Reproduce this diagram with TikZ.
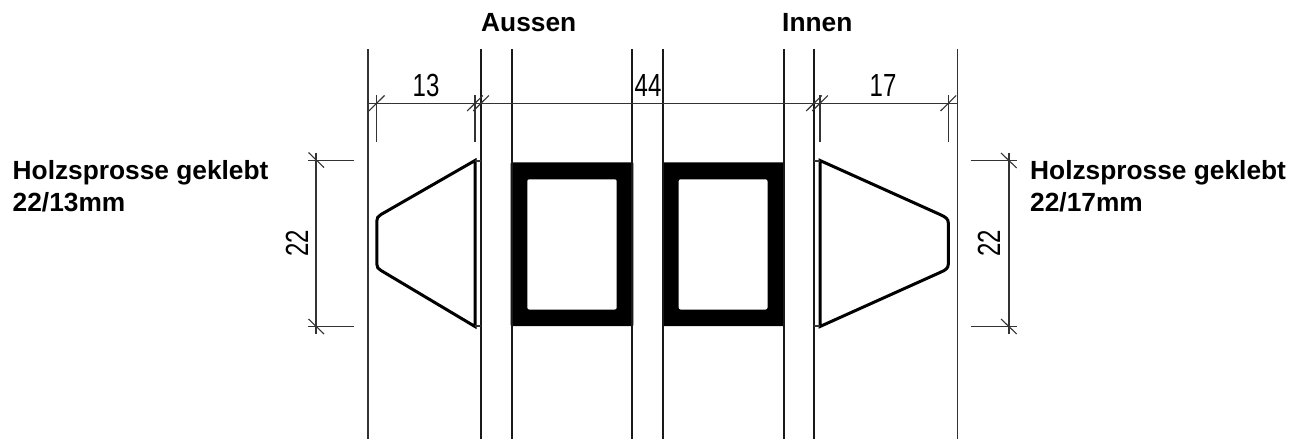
\documentclass[tikz,border=0pt]{standalone}
\usepackage{fontspec}
\setmainfont{Liberation Sans}
\tikzset{
  wall/.style={line width=1.8pt,black!90},
  thin/.style={line width=1.3pt,black!80},
  dimline/.style={line width=1.1pt,black!80},
  profile/.style={line width=3pt,black,line join=miter},
  frame/.style={fill=black,draw=none,rounded corners=1pt},
  hole/.style={fill=white,draw=none,rounded corners=2pt},
  lab/.style={font=\bfseries\fontsize{26.3}{30}\selectfont,anchor=base west,inner sep=0pt},
  dimtext/.style={font=\fontsize{32}{32}\selectfont,inner sep=0pt}
}
\newcommand{\narrow}[1]{\scalebox{0.75}[1]{#1}}
\begin{document}
\begin{tikzpicture}[x=1pt,y=-1pt]
\useasboundingbox (0,0) rectangle (1308,441);
% frames
\fill[frame] (510.7,162.3) rectangle (633.3,326.2);
\fill[hole] (527.3,179.3) rectangle (616.7,309.5);
\fill[frame] (662,162.3) rectangle (784.5,326.2);
\fill[hole] (678.7,179.3) rectangle (767.5,309.5);
% vertical lines
\draw[thin] (368,49) -- (368,439);
\draw[wall] (481,49) -- (481,439);
\draw[wall] (511.7,49) -- (511.7,439);
\draw[wall] (632.3,49) -- (632.3,439);
\draw[wall] (662.8,49) -- (662.8,439);
\draw[wall] (783.7,49) -- (783.7,439);
\draw[wall] (813.8,49) -- (813.8,439);
\draw[thin] (957.3,49) -- (957.3,439);
% top dimension
\draw[dimline] (368,103.3) -- (957.3,103.3);
\foreach \x in {376.7,475,481,814,820,948.3}
  \draw[dimline] (\x-7.8,111) -- (\x+7.8,95.5);
\foreach \x in {376.7,475,820,948.3}
  \draw[dimline] (\x,95.5) -- (\x,141.5);
% left profile
\draw[profile] (475,160.5) -- (381,214.5) .. controls (378,216.2) and (376.8,218) .. (376.8,221) -- (376.8,264) .. controls (376.8,267) and (378,269) .. (381,270.5) -- (475,326.5) -- cycle;
\draw[dimline] (475,161) -- (481,161) (475,326) -- (481,326);
% right profile
\draw[profile] (820,160.5) -- (940,214.5) .. controls (946,217.2) and (948.3,219) .. (948.3,223) -- (948.3,264) .. controls (948.3,268) and (946,270) .. (940,272.5) -- (820,326.5) -- cycle;
\draw[dimline] (814,161) -- (820,161) (814,326) -- (820,326);
% left dimension
\draw[dimline] (316,152.5) -- (316,334);
\draw[dimline] (308,160.4) -- (354,160.4) (308,326.5) -- (354,326.5);
\draw[dimline] (308.5,152.5) -- (324,167.5) (308.5,319) -- (324,334);
% right dimension
\draw[dimline] (1009,152.5) -- (1009,334);
\draw[dimline] (970.5,160.5) -- (1016.7,160.5) (970.5,326.6) -- (1016.7,326.6);
\draw[dimline] (1001,153) -- (1016.7,168) (1001,319) -- (1016.7,334);
% dimension texts
\node[dimtext] (d13) at (426,85.5) {\narrow{13}};
\node[dimtext] (d44) at (648,85.5) {\narrow{44}};
\node[dimtext] (d17) at (883,85.5) {\narrow{17}};
\node[dimtext,rotate=90] (d22l) at (297,243) {\narrow{22}};
\node[dimtext,rotate=90] (d22r) at (989,243) {\narrow{22}};
% labels
\node[lab] (aussen) at (481,31.7) {Aussen};
\node[lab] (innen) at (782,31.7) {Innen};
\node[lab] (l1) at (12.5,179) {Holzsprosse geklebt};
\node[lab] (l2) at (12.5,211) {22/13mm};
\node[lab] (r1) at (1030,179) {Holzsprosse geklebt};
\node[lab] (r2) at (1030,211) {22/17mm};
\end{tikzpicture}
\end{document}
